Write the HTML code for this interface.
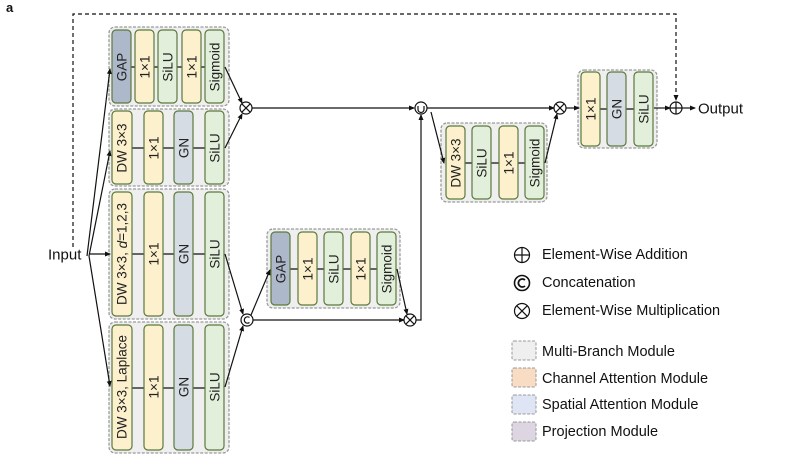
<!DOCTYPE html>
<html><head><meta charset="utf-8"><style>
html,body{margin:0;padding:0;background:#fff;}
svg{display:block;font-family:"Liberation Sans",Arial,sans-serif;}
.m{fill:#efefef;stroke:#9a9a9a;stroke-width:1.3;stroke-dasharray:3,1.5;}
.b{stroke:#5b7a3c;stroke-width:1.2;}
.y{fill:#fcf1cc}.g{fill:#e2efda}.n{fill:#d6dce4}.p{fill:#adb9ca}
.t{font-size:13.5px;fill:#222;text-anchor:middle;dominant-baseline:central;}
.l{stroke:#111;stroke-width:1.2;fill:none;}
.lg{font-size:14.5px;fill:#111;dominant-baseline:central;}
</style></head><body>
<svg width="793" height="466" viewBox="0 0 793 466">
<defs><marker id="a" markerWidth="6" markerHeight="6" refX="5" refY="3" orient="auto" markerUnits="userSpaceOnUse"><path d="M0,0.5 L6,3 L0,5.5z" fill="#111"/></marker></defs>
<text x="6" y="12" font-size="13" font-weight="bold" fill="#111">a</text>

<path d="M73,247 V14 H676 V100" class="l" stroke-dasharray="4,3" marker-end="url(#a)"/>

<rect class="m" x="109" y="27" width="120" height="79" rx="6"/>
<rect class="m" x="109" y="109" width="120" height="77" rx="6"/>
<rect class="m" x="109" y="189" width="120" height="130" rx="6"/>
<rect class="m" x="109" y="322" width="120" height="131" rx="6"/>
<rect class="m" x="267" y="229" width="133" height="79" rx="6"/>
<rect class="m" x="441" y="123" width="106" height="79" rx="6"/>
<rect class="m" x="578" y="70" width="79" height="78" rx="6"/>

<path class="l" d="M131,67H205 M131,148H205 M131,254H205 M131,388H205 M290,269H377 M465,163H525 M600,109H634"/>

<rect class="b p" x="112" y="30" width="19" height="73" rx="4"/><text class="t" transform="translate(122,67) rotate(-90)">GAP</text>
<rect class="b y" x="135" y="30" width="19" height="73" rx="4"/><text class="t" transform="translate(145,67) rotate(-90)">1×1</text>
<rect class="b g" x="158" y="30" width="19" height="73" rx="4"/><text class="t" transform="translate(168,67) rotate(-90)">SiLU</text>
<rect class="b y" x="182" y="30" width="19" height="73" rx="4"/><text class="t" transform="translate(192,67) rotate(-90)">1×1</text>
<rect class="b g" x="205" y="30" width="19" height="73" rx="4"/><text class="t" transform="translate(215,67) rotate(-90)">Sigmoid</text>

<rect class="b y" x="112" y="111" width="20" height="73" rx="4"/><text class="t" transform="translate(122,148) rotate(-90)">DW 3×3</text>
<rect class="b y" x="144" y="111" width="19" height="73" rx="4"/><text class="t" transform="translate(154,148) rotate(-90)">1×1</text>
<rect class="b n" x="174" y="111" width="19" height="73" rx="4"/><text class="t" transform="translate(184,148) rotate(-90)">GN</text>
<rect class="b g" x="205" y="111" width="19" height="73" rx="4"/><text class="t" transform="translate(215,148) rotate(-90)">SiLU</text>

<rect class="b y" x="112" y="192" width="20" height="124" rx="4"/><text class="t" transform="translate(122,254) rotate(-90)">DW 3×3, <tspan font-style="italic">d</tspan>=1,2,3</text>
<rect class="b y" x="144" y="192" width="19" height="124" rx="4"/><text class="t" transform="translate(154,254) rotate(-90)">1×1</text>
<rect class="b n" x="174" y="192" width="19" height="124" rx="4"/><text class="t" transform="translate(184,254) rotate(-90)">GN</text>
<rect class="b g" x="205" y="192" width="19" height="124" rx="4"/><text class="t" transform="translate(215,254) rotate(-90)">SiLU</text>

<rect class="b y" x="112" y="325" width="20" height="125" rx="4"/><text class="t" transform="translate(122,387) rotate(-90)">DW 3×3, Laplace</text>
<rect class="b y" x="144" y="325" width="19" height="125" rx="4"/><text class="t" transform="translate(154,387) rotate(-90)">1×1</text>
<rect class="b n" x="174" y="325" width="19" height="125" rx="4"/><text class="t" transform="translate(184,387) rotate(-90)">GN</text>
<rect class="b g" x="205" y="325" width="19" height="125" rx="4"/><text class="t" transform="translate(215,387) rotate(-90)">SiLU</text>

<rect class="b p" x="271" y="232" width="19" height="73" rx="4"/><text class="t" transform="translate(281,269) rotate(-90)">GAP</text>
<rect class="b y" x="298" y="232" width="19" height="73" rx="4"/><text class="t" transform="translate(308,269) rotate(-90)">1×1</text>
<rect class="b g" x="324" y="232" width="19" height="73" rx="4"/><text class="t" transform="translate(334,269) rotate(-90)">SiLU</text>
<rect class="b y" x="351" y="232" width="19" height="73" rx="4"/><text class="t" transform="translate(361,269) rotate(-90)">1×1</text>
<rect class="b g" x="377" y="232" width="19" height="73" rx="4"/><text class="t" transform="translate(387,269) rotate(-90)">Sigmoid</text>

<rect class="b y" x="446" y="126" width="19" height="73" rx="4"/><text class="t" transform="translate(456,163) rotate(-90)">DW 3×3</text>
<rect class="b g" x="472" y="126" width="19" height="73" rx="4"/><text class="t" transform="translate(482,163) rotate(-90)">SiLU</text>
<rect class="b y" x="499" y="126" width="19" height="73" rx="4"/><text class="t" transform="translate(509,163) rotate(-90)">1×1</text>
<rect class="b g" x="525" y="126" width="19" height="73" rx="4"/><text class="t" transform="translate(535,163) rotate(-90)">Sigmoid</text>

<rect class="b y" x="581" y="72" width="19" height="74" rx="4"/><text class="t" transform="translate(591,109) rotate(-90)">1×1</text>
<rect class="b n" x="607" y="72" width="19" height="74" rx="4"/><text class="t" transform="translate(617,109) rotate(-90)">GN</text>
<rect class="b g" x="634" y="72" width="19" height="74" rx="4"/><text class="t" transform="translate(644,109) rotate(-90)">SiLU</text>

<text x="48" y="255" font-size="15" fill="#111" dominant-baseline="central">Input</text>
<path class="l" d="M90,254 H110" marker-end="url(#a)"/>
<path class="l" d="M87,256 L110,69" marker-end="url(#a)"/>
<path class="l" d="M89,256 L110,151" marker-end="url(#a)"/>
<path class="l" d="M89,256 L110,386" marker-end="url(#a)"/>

<path class="l" d="M225,67 L242,103" marker-end="url(#a)"/>
<path class="l" d="M225,148 L242,114" marker-end="url(#a)"/>
<path class="l" d="M252,108 H414" marker-end="url(#a)"/>
<path class="l" d="M225,254 L243,314" marker-end="url(#a)"/>
<path class="l" d="M225,387 L243,326" marker-end="url(#a)"/>
<path class="l" d="M252,320 H404" marker-end="url(#a)"/>
<path class="l" d="M251,315 L270,270" marker-end="url(#a)"/>
<path class="l" d="M397,269 L407,314" marker-end="url(#a)"/>
<path class="l" d="M416,320 H421 V115" marker-end="url(#a)"/>
<path class="l" d="M427,108 H554" marker-end="url(#a)"/>
<path class="l" d="M431,112 L444,163" marker-end="url(#a)"/>
<path class="l" d="M545,163 L557,114" marker-end="url(#a)"/>
<path class="l" d="M566,108 H579" marker-end="url(#a)"/>
<path class="l" d="M654,108 H670" marker-end="url(#a)"/>
<path class="l" d="M682,108 H695" marker-end="url(#a)"/>
<text x="698" y="109" font-size="15" fill="#111" dominant-baseline="central">Output</text>

<g class="l" fill="#fff">
<circle cx="246" cy="108" r="6" fill="#fff"/><path d="M241.8,103.8 L250.2,112.2 M250.2,103.8 L241.8,112.2"/>
<circle cx="410" cy="320" r="6" fill="#fff"/><path d="M405.8,315.8 L414.2,324.2 M414.2,315.8 L405.8,324.2"/>
<circle cx="560" cy="108" r="6" fill="#fff"/><path d="M555.8,103.8 L564.2,112.2 M564.2,103.8 L555.8,112.2"/>
<circle cx="676" cy="108" r="6" fill="#fff"/><path d="M670,108 H682 M676,102 V114"/>
<circle cx="247" cy="320" r="6" fill="#fff"/><path d="M249.5,317.5 A3.2,3.2 0 1 0 249.5,322.5"/>
<circle cx="421" cy="108" r="6" fill="#fff"/><path d="M418,106 V109.5 A3,3 0 0 0 424,109.5 V106"/>
</g>

<g class="l">
<circle cx="522" cy="255" r="7.5" fill="#fff"/><path d="M514.5,255 H529.5 M522,247.5 V262.5"/>
<circle cx="522" cy="283" r="7.5" fill="#fff" stroke-width="1.6"/><path d="M525,280 A4,4 0 1 0 525,286" stroke-width="1.8"/>
<circle cx="522" cy="311" r="7.5" fill="#fff"/><path d="M516.7,305.7 L527.3,316.3 M527.3,305.7 L516.7,316.3"/>
</g>
<text class="lg" x="542" y="255">Element-Wise Addition</text>
<text class="lg" x="542" y="283">Concatenation</text>
<text class="lg" x="542" y="311">Element-Wise Multiplication</text>
<rect x="512" y="341" width="24" height="19" rx="2" fill="#efefef" stroke="#999" stroke-dasharray="3,1.5"/>
<rect x="512" y="368" width="24" height="19" rx="2" fill="#f8dcc4" stroke="#999" stroke-dasharray="3,1.5"/>
<rect x="512" y="395" width="24" height="19" rx="2" fill="#dfe5f4" stroke="#999" stroke-dasharray="3,1.5"/>
<rect x="512" y="422" width="24" height="19" rx="2" fill="#ddd5e2" stroke="#999" stroke-dasharray="3,1.5"/>
<text class="lg" x="542" y="352">Multi-Branch Module</text>
<text class="lg" x="542" y="379">Channel Attention Module</text>
<text class="lg" x="542" y="405">Spatial Attention Module</text>
<text class="lg" x="542" y="432">Projection Module</text>
</svg>
</body></html>
